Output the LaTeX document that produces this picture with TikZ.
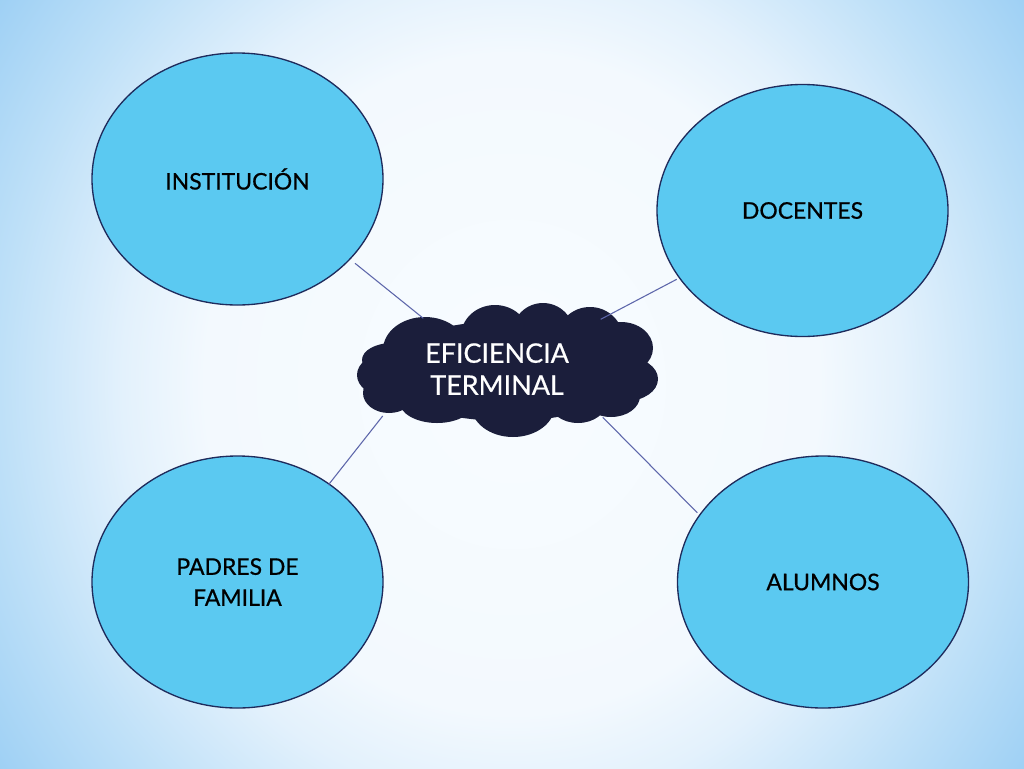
\documentclass[tikz,border=0pt]{standalone}
\usepackage{fontspec}
\setmainfont{Lato}
\newfontfamily\medfont{Lato}[FakeBold=0.6]
\usetikzlibrary{shapes.geometric,fadings}
\definecolor{ellfill}{HTML}{5BC9F1}
\definecolor{ellline}{HTML}{1E2B5C}
\definecolor{cloudfill}{HTML}{1B1E3B}
\definecolor{linkcol}{HTML}{5D66AA}
\pgfdeclareradialshading{bgshade}{\pgfpoint{0bp}{0bp}}{%
  color(0bp)=(rgb,255:red,248;green,252;blue,255);
  color(15bp)=(rgb,255:red,243;green,249;blue,254);
  color(19bp)=(rgb,255:red,227;green,241;blue,252);
  color(25bp)=(rgb,255:red,190;green,224;blue,248);
  color(31bp)=(rgb,255:red,156;green,207;blue,244);
  color(50bp)=(rgb,255:red,140;green,198;blue,242)}
\tikzfading[name=bandfade, top color=transparent!100, middle color=transparent!0, bottom color=transparent!100]
\tikzset{
  ell/.style={ellipse, draw=ellline, line width=1pt, fill=ellfill, inner sep=0pt,
    minimum width=218.25pt, minimum height=189pt, align=center,
    font=\medfont\fontsize{17.2}{23.25}\selectfont, text=black},
  link/.style={draw=linkcol, line width=0.8pt},
  puff/.style={fill=cloudfill},
  cloudtext/.style={align=center, text=white, inner sep=0pt, font=\medfont\fontsize{20.2}{24}\selectfont}
}
\begin{document}
\begin{tikzpicture}[x=0.75pt, y=-0.75pt]
\useasboundingbox (0,0) rectangle (1024,768);
\begin{scope}
\clip (0,0) rectangle (1024,768);
\shade[shading=bgshade] (0,-166) rectangle (1024,934);
\fill[white, opacity=0.35, path fading=bandfade] (0,545) rectangle (1024,615);
\end{scope}

% cloud body built from overlapping puffs
\fill[puff] (507,371) ellipse [x radius=128, y radius=50];
\fill[puff] (425,350) ellipse [x radius=42, y radius=33];
\fill[puff] (495,336) ellipse [x radius=34, y radius=31];
\fill[puff] (543,334) ellipse [x radius=31, y radius=31];
\fill[puff] (590,339) ellipse [x radius=33, y radius=32];
\fill[puff] (621,348) ellipse [x radius=32, y radius=26];
\fill[puff] (626,379) ellipse [x radius=32, y radius=22];
\fill[puff] (611,396) ellipse [x radius=29, y radius=21];
\fill[puff] (578,401) ellipse [x radius=29, y radius=22];
\fill[puff] (513,405) ellipse [x radius=42, y radius=32];
\fill[puff] (437,401) ellipse [x radius=38, y radius=22];
\fill[puff] (389,393) ellipse [x radius=26, y radius=20];
\fill[puff] (385,375) ellipse [x radius=28, y radius=21];
\fill[puff] (392,360) ellipse [x radius=30, y radius=17];
\node[cloudtext] (cloud) at (497,369) {EFICIENCIA\\TERMINAL};

\node[ell] (inst) at (237.5,179) {INSTITUCIÓN};
\node[ell] (doc) at (802.5,210.5) {DOCENTES};
\node[ell] (pad) at (237.5,582) {PADRES DE\\FAMILIA};
\node[ell] (alu) at (823,582) {ALUMNOS};

\coordinate (i1) at (355,263.3);   \coordinate (i2) at (423.3,318.3);
\coordinate (d1) at (676.7,279.3); \coordinate (d2) at (600.7,319.3);
\coordinate (p1) at (328.3,485);   \coordinate (p2) at (382.7,416);
\coordinate (a1) at (697.3,512.7); \coordinate (a2) at (602.7,417.3);

\draw[link] (i1) -- (i2);
\draw[link] (d1) -- (d2);
\draw[link] (p1) -- (p2);
\draw[link] (a1) -- (a2);
\end{tikzpicture}
\end{document}
